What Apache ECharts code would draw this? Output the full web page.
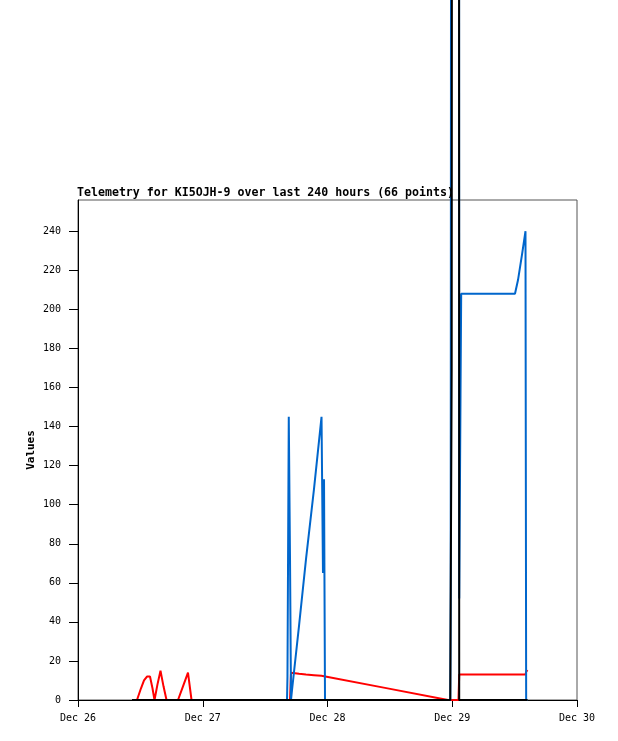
<!DOCTYPE html>
<html>
<head>
<meta charset="utf-8">
<script src="https://cdn.jsdelivr.net/npm/echarts@6/dist/echarts.min.js"></script>
<style>
html,body{margin:0;padding:0;background:#fff;}
#c{width:618px;height:741px;}
</style>
</head>
<body>
<div id="c"></div>
<script>
// Hours since Dec 26 00:00
const hours = [10.39,11.35,12.12,12.70,13.27,13.85,14.33,14.72,15.29,15.87,16.45,17.03,19.24,20.20,21.16,21.84,
  40.21,40.30,40.55,40.79,40.98,41.17,42.52,43.86,45.40,46.85,47.13,47.33,47.52,59.06,71.18,
  71.62,71.70,71.89,72.08,72.26,73.20,73.34,73.59,73.72,84.07,84.65,85.42,86.09,86.22,86.48];
const redValues = [0,0,6,10,12,12,6,0,8,15,7,0,0,7,14,0,
  0,0,0,0,14,13.7,13.4,13.0,12.7,12.4,12.3,12.2,12.1,6.2,0,
  0,0,0,0,0,0,13,13,13,13,13,13,13,14.5,15.3];
const blueValues = [0,0,0,0,0,0,0,0,0,0,0,0,0,0,0,0,
  0,12,145,72,0,5,38,72,108,145,65,113,0,0,0,
  0,56,56,2000,2000,2000,52,156,208,208,215,228,240,0,0];
const blackValues = [0,0,0,0,0,0,0,0,0,0,0,0,0,0,0,0,
  0,0,0,0,0,0,0,0,0,0,0,0,0,0,0,
  0,0,169,169,2000,2000,0,0,0,0,0,0,0,0,0];
const dayLabels = ['Dec 26','Dec 27','Dec 28','Dec 29','Dec 30'];
const titleText = 'Telemetry for KI5OJH-9 over last 240 hours (66 points)';

const mono = '"DejaVu Sans Mono", "Liberation Mono", monospace';
function pairs(vals){ return hours.map((h,i)=>[h, vals[i]]); }
function mk(name, vals, color){
  return {name, type:'line', data:pairs(vals), showSymbol:false, clip:false,
    lineStyle:{color, width:2}, itemStyle:{color}, animation:false};
}
const chart = echarts.init(document.getElementById('c'), null, {renderer:'canvas'});
chart.setOption({
  animation:false,
  backgroundColor:'#fff',
  title:{text:titleText, left:77, top:187, padding:0,
    textStyle:{fontFamily:mono, fontSize:11.6, fontWeight:'bold', color:'#000'}},
  grid:{left:78, right:41, top:200, bottom:41, show:true, borderColor:'#555', borderWidth:1, containLabel:false},
  xAxis:{type:'value', min:0, max:96, interval:24,
    axisLine:{show:true, onZero:false, lineStyle:{color:'#000', width:1}},
    axisTick:{show:true, length:7, lineStyle:{color:'#000'}},
    splitLine:{show:false},
    axisLabel:{margin:13, color:'#000', fontFamily:mono, fontSize:10,
      formatter:(v)=>dayLabels[Math.round(v/24)]}},
  yAxis:{type:'value', min:0, max:256, interval:20,
    name:'Values', nameLocation:'middle', nameGap:41, nameRotate:90, nameMoveOverlap:false,
    nameTextStyle:{fontFamily:mono, fontSize:11, fontWeight:'bold', color:'#000'},
    axisLine:{show:true, lineStyle:{color:'#000', width:1}},
    axisTick:{show:true, length:9, lineStyle:{color:'#000'}},
    splitLine:{show:false},
    axisLabel:{margin:17, color:'#000', fontFamily:mono, fontSize:10, showMaxLabel:false,
      formatter:(v)=> (v % 20 === 0 ? String(v) : '')}},
  series:[
    mk('red', redValues, '#ff0000'),
    mk('blue', blueValues, '#0066cc'),
    mk('black', blackValues, '#000000')
  ]
});
</script>
</body>
</html>
